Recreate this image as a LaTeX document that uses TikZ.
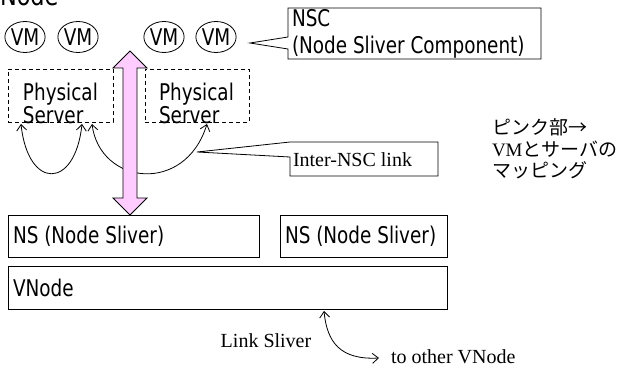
\documentclass[tikz,border=0pt]{standalone}
\usepackage{fontspec}
\setmainfont{Liberation Serif}
\newfontfamily\goth[FakeStretch=0.8]{DejaVu Sans}
\newfontfamily\jp{Noto Sans CJK JP}
\usetikzlibrary{arrows.meta,shapes.geometric}
\definecolor{mappink}{RGB}{255,204,255}
\begin{document}
\begin{tikzpicture}[x=1pt,y=-1pt,
  every node/.style={outer sep=0pt},
  gfont/.style={font=\goth\fontsize{23}{19}\selectfont},
  tfont/.style={font=\rmfamily\fontsize{20}{24}\selectfont},
  solidbox/.style={draw, line width=0.8pt, inner sep=0pt, anchor=north west},
  dbox/.style={draw, line width=0.8pt, dash pattern=on 4pt off 3pt, inner sep=0pt, anchor=north west},
  vm/.style={draw, ellipse, line width=0.8pt, minimum width=37pt, minimum height=31pt, inner sep=0pt, gfont},
  txt/.style={inner sep=0pt},
  arr/.style={line width=0.8pt, {Straight Barb[length=6pt,width=10pt]}-{Straight Barb[length=6pt,width=10pt]}},
  outline/.style={line width=0.8pt, fill=white},
]
\useasboundingbox (0,0) rectangle (632,369);

% clipped title
\node[txt, anchor=base west, font=\goth\fontsize{28}{28}\selectfont] (title) at (0,6) {Node};

% VMs
\node[vm] (vm1) at (25,37) {VM};
\node[vm] (vm2) at (78,37) {VM};
\node[vm] (vm3) at (164,37) {VM};
\node[vm] (vm4) at (216,37) {VM};

% physical servers
\node[dbox, minimum width=105pt, minimum height=53pt] (ps1) at (8,69) {};
\node[txt, gfont, anchor=north west, align=left] (ps1t) at (23,83) {Physical\\Server};
\node[dbox, minimum width=104pt, minimum height=53pt] (ps2) at (145,69) {};
\node[txt, gfont, anchor=north west, align=left] (ps2t) at (159,83) {Physical\\Server};

% inter-NSC links
\coordinate (a1) at (21,124);
\coordinate (a2) at (82,124);
\coordinate (b1) at (92,124);
\coordinate (b2) at (207,124);
\draw[arr] (a1) .. controls (28,190) and (75,190) .. (a2);
\draw[arr] (b1) .. controls (100,185) and (185,195) .. (b2);

% pink mapping arrow
\coordinate (mapT) at (130,51);
\coordinate (mapB) at (130,215);
\draw[line width=0.8pt, fill=mappink] (mapT) -- ++(17,17) -- ++(-10,0) -- (137,198) -- ++(10,0) -- (mapB) -- ++(-17,-17) -- ++(10,0) -- (123,68) -- ++(-10,0) -- cycle;

% Inter-NSC callout
\coordinate (itip) at (197,152);
\draw[outline] (290,142) -- (itip) -- (290,157) -- (290,176) -- (438,176) -- (438,142) -- cycle;
\node[txt, tfont, anchor=west] (inter) at (293,159.5) {Inter-NSC link};

% NSC callout
\coordinate (ntip) at (250,43);
\draw[outline] (288,8) -- (288,37) -- (ntip) -- (288,49) -- (288,59) -- (541,59) -- (541,8) -- cycle;
\node[txt, font=\goth\fontsize{23}{27}\selectfont, anchor=north west, align=left] (nsc) at (292,9.5) {NSC\\(Node Sliver Component)};

% NS and VNode
\node[solidbox, minimum width=251pt, minimum height=42pt] (ns1) at (8,215) {};
\node[txt, gfont, anchor=west] (ns1t) at (13,236) {NS (Node Sliver)};
\node[solidbox, minimum width=167pt, minimum height=42pt] (ns2) at (280,215) {};
\node[txt, gfont, anchor=west] (ns2t) at (285,236) {NS (Node Sliver)};
\node[solidbox, minimum width=439pt, minimum height=43pt] (vn) at (8,266) {};
\node[txt, gfont, anchor=west] (vnt) at (13,287.5) {VNode};

% link sliver
\coordinate (ls1) at (324,311);
\coordinate (ls2) at (379,358);
\draw[arr] (ls1) .. controls (327,342) and (340,360) .. (ls2);
\node[txt, font=\rmfamily\fontsize{20}{20}\selectfont] (lst) at (266,341) {Link Sliver};
\node[txt, font=\rmfamily\fontsize{20}{20}\selectfont, anchor=west] (other) at (391,357) {to other VNode};

% Japanese note
\node[txt, font=\jp\fontsize{19}{21.5}\selectfont, anchor=north west, align=left] (jpn) at (492,119) {ピンク部→\\{\rmfamily VM}とサーバの\\マッピング};
\end{tikzpicture}
\end{document}
